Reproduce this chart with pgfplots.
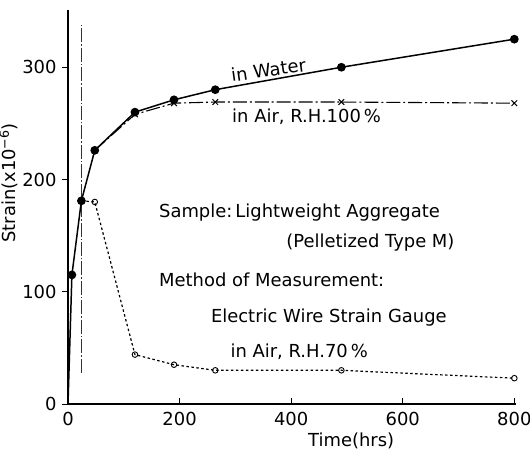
\documentclass[border=0pt]{standalone}
\usepackage{fontspec}
\setmainfont{DejaVu Sans}
\usepackage{pgfplots}
\pgfplotsset{compat=1.18}
\usetikzlibrary{calc}

\newcommand{\lbl}{\fontsize{18}{20}\selectfont}

\begin{document}
\begin{tikzpicture}
\begin{axis}[
  name=ax,
  scale only axis,
  width=448bp, height=394bp,
  xmin=0, xmax=803,
  ymin=0, ymax=351,
  axis lines*=left,
  axis line style={line width=1.1pt},
  clip=false,
  xtick={0,200,400,600,800},
  ytick={0,100,200,300},
  xtick align=inside,
  ytick align=outside,
  major tick length=6bp,
  tick style={black, line width=0.9pt},
  tick label style={font=\lbl},
  xticklabel style={yshift=-5bp},
  yticklabel style={xshift=-2bp},
  /pgf/number format/assume math mode=true,
  xlabel={Time(hrs)},
  xlabel style={font=\lbl, at={(ticklabel cs:0.632)}, inner sep=0pt, yshift=-3bp},
  ylabel={Strain(x10\textsuperscript{−6})},
  ylabel style={font=\lbl, at={(ticklabel cs:0.561)}, yshift=-2bp},
]
% reference line at 24 hrs
\addplot[black!80, line width=0.5pt, dash pattern=on 14pt off 2pt on 1.5pt off 2pt]
  coordinates {(24,28) (24,339)};

% in water
\addplot[black, line width=1.5pt, mark=*, mark size=3.6pt, mark indices={2,3,4,5,6,7,8,9}]
  coordinates {(0,0) (7,115) (24,181) (48,226) (120,260) (190,271) (264,280) (490,300) (800,325)};

% in air, R.H. 100 %
\addplot[black, line width=1.1pt, dash pattern=on 14pt off 3pt on 2pt off 3pt,
  mark=x, mark size=4pt, mark options={solid, line width=1pt}]
  coordinates {(48,226) (120,258) (190,268) (264,269) (490,269) (800,268)};

% in air, R.H. 70 %
\addplot[black, line width=1.2pt, dash pattern=on 2.5pt off 2.5pt,
  mark=o, mark size=2.8pt, mark options={solid, line width=0.9pt, fill=white},
  mark indices={2,3,4,5,6,7}]
  coordinates {(24,181) (48,180) (120,44) (190,35) (264,30) (490,30) (800,23)};

\node[font=\lbl, anchor=base west, rotate=8, inner sep=0pt] at (axis cs:294,287) {in Water};
\node[font=\lbl, anchor=base west, inner sep=0pt] at (axis cs:294,251) {in Air, R.H.100\,\%};
\node[font=\lbl, anchor=base west, inner sep=0pt] at (axis cs:163,166.5) {Sample:\,Lightweight Aggregate};
\node[font=\lbl, anchor=base west, inner sep=0pt] at (axis cs:391,139) {(Pelletized Type M)};
\node[font=\lbl, anchor=base west, inner sep=0pt] at (axis cs:163,105) {Method of Measurement:};
\node[font=\lbl, anchor=base west, inner sep=0pt] at (axis cs:256,73) {Electric Wire Strain Gauge};
\node[font=\lbl, anchor=base west, inner sep=0pt] at (axis cs:291,41) {in Air, R.H.70\,\%};
\end{axis}
\pgfresetboundingbox
\path[use as bounding box] ($(ax.south west)+(-68bp,-50bp)$) rectangle ++(530bp,454bp);
\end{tikzpicture}
\end{document}
